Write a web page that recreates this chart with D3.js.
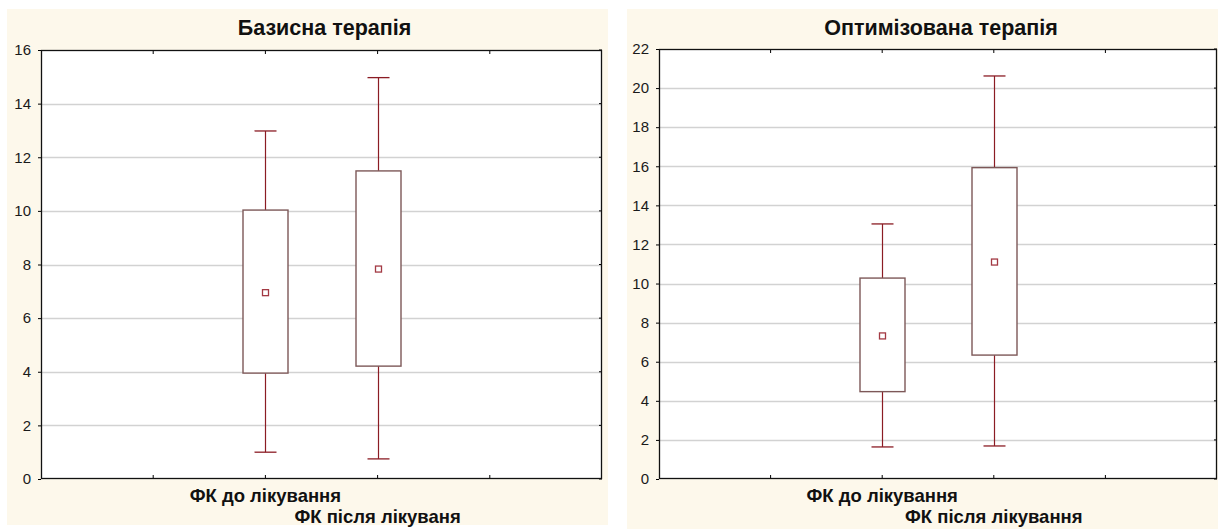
<!DOCTYPE html>
<html>
<head>
<meta charset="utf-8">
<script src="https://cdn.jsdelivr.net/npm/d3@7"></script>
<style>
  html, body { margin: 0; padding: 0; background: #ffffff; }
  svg { display: block; }
  text { font-family: "Liberation Sans", Arial, sans-serif; }
</style>
</head>
<body>
<svg id="chart" width="1218" height="529"></svg>
<script>
// Category names shared by both panels
const categoriesBase = ["ФК до лікування", "ФК після лікуваня"];
const categoriesOpt = ["ФК до лікування", "ФК після лікування"];

// Basic therapy: mean, box (lower/upper), whiskers (min/max)
const baseMean = [6.95, 7.83];
const baseBoxLow = [3.95, 4.21];
const baseBoxHigh = [10.03, 11.49];
const baseWhiskLow = [1.0, 0.75];
const baseWhiskHigh = [12.98, 14.97];
const baseTicks = [0, 2, 4, 6, 8, 10, 12, 14, 16];

// Optimised therapy
const optMean = [7.32, 11.1];
const optBoxLow = [4.47, 6.34];
const optBoxHigh = [10.28, 15.93];
const optWhiskLow = [1.64, 1.69];
const optWhiskHigh = [13.05, 20.62];
const optTicks = [0, 2, 4, 6, 8, 10, 12, 14, 16, 18, 20, 22];

const svg = d3.select("#chart");

const panels = [
  {
    title: "Базисна терапія",
    bg: [7, 9, 601, 516],
    plot: { x0: 41, x1: 602, y0: 50, y1: 479 },
    ymax: 16, ticks: baseTicks, cats: categoriesBase,
    mean: baseMean, q1: baseBoxLow, q3: baseBoxHigh, lo: baseWhiskLow, hi: baseWhiskHigh
  },
  {
    title: "Оптимізована терапія",
    bg: [627, 9, 591, 520],
    plot: { x0: 659, x1: 1217, y0: 49, y1: 479 },
    ymax: 22, ticks: optTicks, cats: categoriesOpt,
    mean: optMean, q1: optBoxLow, q3: optBoxHigh, lo: optWhiskLow, hi: optWhiskHigh
  }
];

const boxColor = "#7d5858";
const whiskColor = "#8b1c24";

panels.forEach(p => {
  const g = svg.append("g");
  g.append("rect")
    .attr("x", p.bg[0]).attr("y", p.bg[1])
    .attr("width", p.bg[2]).attr("height", p.bg[3])
    .attr("fill", "#fdf8eb");

  const { x0, x1, y0, y1 } = p.plot;
  g.append("rect")
    .attr("x", x0).attr("y", y0)
    .attr("width", x1 - x0).attr("height", y1 - y0)
    .attr("fill", "#ffffff");

  // positions: categories sit at 2 and 3 of a 0..5 band
  const x = d3.scaleLinear().domain([0, 5]).range([x0, x1]);
  const y = d3.scaleLinear().domain([0, p.ymax]).range([y1, y0]);
  const pos = i => x(i + 2);

  // horizontal grid
  g.append("g").selectAll("line").data(p.ticks.filter(t => t > 0 && t < p.ymax)).join("line")
    .attr("x1", x0).attr("x2", x1)
    .attr("y1", d => Math.round(y(d)) + 0.5).attr("y2", d => Math.round(y(d)) + 0.5)
    .attr("stroke", "#d2d2d2").attr("stroke-width", 1.3);

  // y axis with labels
  const yAxis = d3.axisLeft(y).tickValues(p.ticks).tickSize(3).tickPadding(7);
  const ya = g.append("g").attr("transform", `translate(${x0},0)`).call(yAxis);
  ya.select(".domain").remove();
  ya.selectAll("line").attr("stroke", "#000");
  ya.selectAll("text").attr("font-size", 15).attr("fill", "#1a1a1a")
    .attr("font-family", "'Liberation Sans', Arial, sans-serif");

  // right side tick stubs
  g.append("g").selectAll("line").data(p.ticks).join("line")
    .attr("x1", x1 - 3).attr("x2", x1)
    .attr("y1", d => y(d)).attr("y2", d => y(d))
    .attr("stroke", "#000");

  // top/bottom tick stubs
  const xt = [1, 2, 3, 4];
  g.append("g").selectAll("line").data(xt).join("line")
    .attr("x1", d => x(d)).attr("x2", d => x(d))
    .attr("y1", y0).attr("y2", y0 + 4).attr("stroke", "#000");
  g.append("g").selectAll("line").data(xt).join("line")
    .attr("x1", d => x(d)).attr("x2", d => x(d))
    .attr("y1", y1 - 4).attr("y2", y1).attr("stroke", "#000");

  // frame
  g.append("rect")
    .attr("x", x0 + 0.5).attr("y", y0 + 0.5)
    .attr("width", x1 - x0 - 1).attr("height", y1 - y0 - 1)
    .attr("fill", "none").attr("stroke", "#111").attr("stroke-width", 1.3);

  // boxes
  const idx = p.cats.map((_, i) => i);
  const bw = 45, cap = 22;
  const bg = g.append("g");
  idx.forEach(i => {
    const cx = Math.round(pos(i)) + 0.5;
    // whiskers
    bg.append("line").attr("x1", cx).attr("x2", cx)
      .attr("y1", y(p.hi[i])).attr("y2", y(p.q3[i]))
      .attr("stroke", whiskColor).attr("stroke-width", 1.2);
    bg.append("line").attr("x1", cx).attr("x2", cx)
      .attr("y1", y(p.q1[i])).attr("y2", y(p.lo[i]))
      .attr("stroke", whiskColor).attr("stroke-width", 1.2);
    bg.append("line").attr("x1", cx - cap / 2).attr("x2", cx + cap / 2)
      .attr("y1", y(p.hi[i])).attr("y2", y(p.hi[i]))
      .attr("stroke", whiskColor).attr("stroke-width", 1.3);
    bg.append("line").attr("x1", cx - cap / 2).attr("x2", cx + cap / 2)
      .attr("y1", y(p.lo[i])).attr("y2", y(p.lo[i]))
      .attr("stroke", whiskColor).attr("stroke-width", 1.3);
    // box
    bg.append("rect")
      .attr("x", cx - bw / 2).attr("y", y(p.q3[i]))
      .attr("width", bw).attr("height", y(p.q1[i]) - y(p.q3[i]))
      .attr("fill", "#ffffff").attr("stroke", boxColor).attr("stroke-width", 1.4);
    // mean marker
    bg.append("rect")
      .attr("x", cx - 3).attr("y", y(p.mean[i]) - 3)
      .attr("width", 6).attr("height", 6)
      .attr("fill", "#ffffff").attr("stroke", "#a33a44").attr("stroke-width", 1.3);
  });

  // category labels, staggered
  g.append("g").selectAll("text").data(idx).join("text")
    .attr("x", i => pos(i))
    .attr("y", i => i === 0 ? 502 : 523)
    .attr("text-anchor", "middle")
    .attr("font-size", 18.5).attr("font-weight", "bold").attr("fill", "#111")
    .text(i => p.cats[i]);

  // title
  g.append("text")
    .attr("x", (x0 + x1) / 2 + 3).attr("y", 35)
    .attr("text-anchor", "middle")
    .attr("font-size", 21.5).attr("font-weight", "bold").attr("fill", "#111")
    .text(p.title);
});
</script>
</body>
</html>
